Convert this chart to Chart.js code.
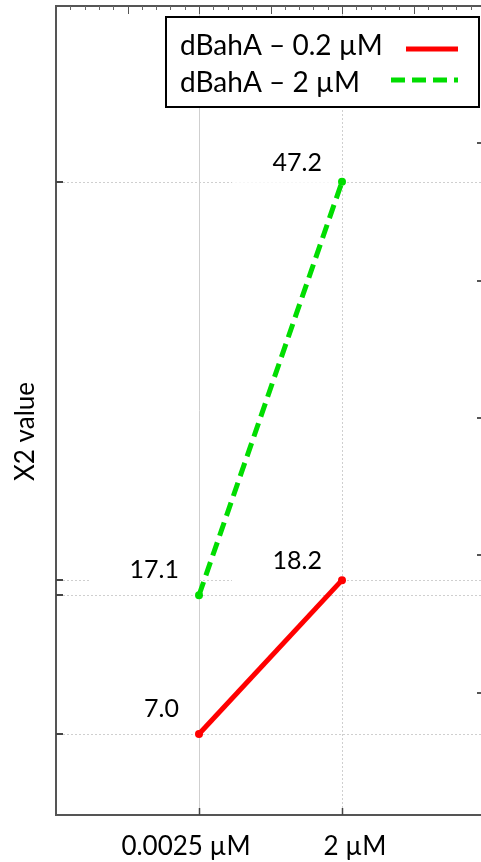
<!DOCTYPE html>
<html>
<head>
<meta charset="utf-8">
<script src="https://cdn.jsdelivr.net/npm/chart.js@4.4.1/dist/chart.umd.min.js"></script>
<style>
  html, body { margin: 0; padding: 0; background: #fff; overflow: hidden; }
  #wrap { position: relative; width: 490px; height: 862px; }
</style>
</head>
<body>
<div id="wrap"><canvas id="c" width="490" height="862"></canvas></div>
<script>
// ---- data ----
const categories = ['0.0025 µM', '2 µM'];
const seriesNames = ['dBahA – 0.2 µM', 'dBahA – 2 µM'];
const seriesLow = [7.0, 18.2];
const seriesHigh = [17.1, 47.2];
const yTitle = 'X2 value';

const RED = '#ff0000';
const GREEN = '#00dd00';
const FONT = 'Lato, "Open Sans", sans-serif';

function toPoints(arr) { return arr.map((v, i) => ({ x: i + 1, y: v })); }

const allValues = seriesLow.concat(seriesHigh);

const drawPlugin = {
  id: 'drawPlugin',
  beforeDatasetsDraw(chart) {
    const { ctx, chartArea: a, scales: { x, y } } = chart;
    ctx.save();
    // vertical grid lines
    categories.forEach((c, i) => {
      const px = Math.round(x.getPixelForValue(i + 1)) + 0.5;
      ctx.beginPath();
      ctx.strokeStyle = '#cfcfcf';
      ctx.lineWidth = 1;
      ctx.setLineDash(i === 0 ? [] : [2, 2]);
      ctx.moveTo(px, a.top);
      ctx.lineTo(px, a.bottom);
      ctx.stroke();
    });
    // horizontal grid lines at data values
    allValues.forEach(v => {
      const py = Math.round(y.getPixelForValue(v)) + 0.5;
      ctx.beginPath();
      ctx.strokeStyle = '#cfcfcf';
      ctx.lineWidth = 1;
      ctx.setLineDash([2, 2]);
      ctx.moveTo(a.left + 7, py);
      ctx.lineTo(a.right, py);
      ctx.stroke();
    });
    ctx.setLineDash([]);
    // label background boxes
    const dys = [-17, -11];
    chart.data.datasets.forEach(ds => {
      ds.data.forEach((p, i) => {
        const px = x.getPixelForValue(p.x);
        const py = y.getPixelForValue(p.y);
        const base = py + dys[i];
        ctx.fillStyle = '#fff';
        ctx.fillRect(px - 110, base - 22, 109, 34);
      });
    });
    ctx.restore();
  },
  afterDatasetsDraw(chart) {
    const { ctx, scales: { x, y } } = chart;
    const dys = [-17, -11];
    ctx.save();
    ctx.font = '25px ' + FONT;
    ctx.fillStyle = '#000';
    ctx.textAlign = 'right';
    ctx.textBaseline = 'alphabetic';
    chart.data.datasets.forEach(ds => {
      ds.data.forEach((p, i) => {
        const px = x.getPixelForValue(p.x);
        const py = y.getPixelForValue(p.y);
        ctx.fillText(p.y.toFixed(1), px - 20, py + dys[i]);
      });
    });
    ctx.restore();
  },
  afterDraw(chart) {
    const { ctx, chartArea: a, scales: { x, y } } = chart;
    ctx.save();
    // frame
    ctx.strokeStyle = '#555';
    ctx.lineWidth = 2;
    ctx.beginPath();
    ctx.moveTo(a.left, a.top);
    ctx.lineTo(a.left, a.bottom);
    ctx.lineTo(a.right, a.bottom);
    ctx.lineTo(a.right, a.top);
    ctx.closePath();
    ctx.stroke();
    // top ticks every 0.1
    ctx.lineWidth = 1;
    for (let k = 1; k < 30; k++) {
      const v = k / 10;
      const px = Math.round(x.getPixelForValue(v)) + 0.5;
      const major = k % 5 === 0;
      ctx.strokeStyle = major ? '#555' : '#666';
      ctx.beginPath();
      ctx.moveTo(px, a.top);
      ctx.lineTo(px, a.top + (major ? 8 : 4));
      ctx.stroke();
    }
    // bottom ticks at categories
    ctx.strokeStyle = '#444';
    ctx.lineWidth = 1.5;
    categories.forEach((c, i) => {
      const px = Math.round(x.getPixelForValue(i + 1)) + 0.5;
      ctx.beginPath();
      ctx.moveTo(px, a.bottom);
      ctx.lineTo(px, a.bottom - 7);
      ctx.stroke();
    });
    // left ticks at data values
    ctx.lineWidth = 2;
    allValues.forEach(v => {
      const py = Math.round(y.getPixelForValue(v));
      ctx.beginPath();
      ctx.moveTo(a.left, py);
      ctx.lineTo(a.left + 7, py);
      ctx.stroke();
    });
    // right ticks every 5
    for (let v = 5; v < 60; v += 5) {
      const py = Math.round(y.getPixelForValue(v));
      if (py < a.top || py > a.bottom) continue;
      const major = v % 10 === 0;
      ctx.strokeStyle = major ? '#555' : '#bbb';
      ctx.lineWidth = major ? 2 : 1;
      ctx.beginPath();
      ctx.moveTo(a.right, py);
      ctx.lineTo(a.right - (major ? 8 : 4), py);
      ctx.stroke();
    }
    // x tick labels
    const xShift = [-13, 13];
    ctx.fillStyle = '#000';
    ctx.font = '26px ' + FONT;
    ctx.textAlign = 'center';
    ctx.textBaseline = 'alphabetic';
    categories.forEach((c, i) => {
      ctx.fillText(c, x.getPixelForValue(i + 1) + xShift[i], a.bottom + 40);
    });
    // y title
    ctx.save();
    ctx.translate(34, (a.top + a.bottom) / 2 + 21);
    ctx.rotate(-Math.PI / 2);
    ctx.textAlign = 'center';
    ctx.fillText(yTitle, 0, 0);
    ctx.restore();
    // legend
    const lx = 166, ly = 17, lw = 313, lh = 90;
    ctx.fillStyle = '#fff';
    ctx.fillRect(lx, ly, lw, lh);
    ctx.strokeStyle = '#000';
    ctx.lineWidth = 2;
    ctx.strokeRect(lx, ly, lw, lh);
    ctx.fillStyle = '#000';
    ctx.font = '28px ' + FONT;
    ctx.textAlign = 'left';
    const rows = [55, 92];
    const lineY = [49, 80];
    chart.data.datasets.forEach((ds, i) => {
      ctx.fillText(seriesNames[i], 180, rows[i]);
      ctx.beginPath();
      ctx.strokeStyle = ds.borderColor;
      ctx.lineWidth = 5;
      ctx.setLineDash(ds.borderDash || []);
      ctx.moveTo(i === 0 ? 406 : 391, lineY[i]);
      ctx.lineTo(458, lineY[i]);
      ctx.stroke();
    });
    ctx.restore();
  }
};

new Chart(document.getElementById('c'), {
  type: 'line',
  data: {
    datasets: [
      {
        label: seriesNames[0],
        data: toPoints([seriesLow[0], seriesLow[1]]),
        borderColor: RED,
        backgroundColor: RED,
        borderWidth: 5,
        pointRadius: 4,
        pointBorderWidth: 0,
        tension: 0
      },
      {
        label: seriesNames[1],
        data: toPoints([seriesHigh[0], seriesHigh[1]]),
        borderColor: GREEN,
        backgroundColor: GREEN,
        borderWidth: 5,
        borderDash: [14, 7],
        pointRadius: 4,
        pointBorderWidth: 0,
        tension: 0
      }
    ]
  },
  options: {
    responsive: false,
    animation: false,
    layout: { padding: { left: 56, top: 6, right: 5, bottom: 47 } },
    plugins: { legend: { display: false }, tooltip: { enabled: false } },
    scales: {
      x: { type: 'linear', min: 0, max: 3, display: false },
      y: { type: 'linear', min: 1.1, max: 60, display: false }
    }
  },
  plugins: [drawPlugin]
});
</script>
</body>
</html>
